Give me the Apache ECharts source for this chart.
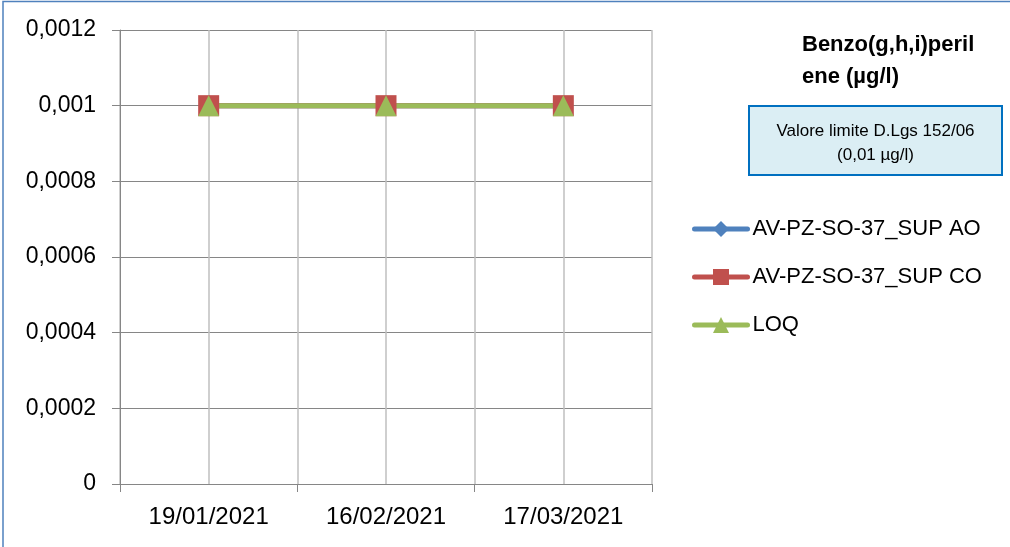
<!DOCTYPE html>
<html style="height: 100%">
   <head>
       <meta charset="utf-8">
   </head>
   <body style="height: 100%; margin: 0">
       <div id="container" style="height: 100%"></div>
       <script type="text/javascript" src="https://cdn.jsdelivr.net/npm/echarts@6/dist/echarts.min.js"></script>
       <script type="text/javascript">
var dates = ['19/01/2021', '16/02/2021', '17/03/2021'];
var supAO = [0.001, 0.001, 0.001];
var supCO = [0.001, 0.001, 0.001];
var loq = [0.001, 0.001, 0.001];
var yTicks = [0, 0.0002, 0.0004, 0.0006, 0.0008, 0.001, 0.0012];

var dom = document.getElementById("container");
var myChart = echarts.init(dom);

var font = '"Liberation Sans", Arial, sans-serif';

option = {
    backgroundColor: '#fff',
    animation: false,
    title: {
        text: 'Benzo(g,h,i)peril\nene (\u00b5g/l)',
        left: 797,
        top: 24,
        textStyle: {
            fontFamily: font,
            fontWeight: 'bold',
            fontSize: 22,
            lineHeight: 32,
            color: '#000'
        }
    },
    legend: {
        orient: 'vertical',
        left: 692,
        top: 218,
        padding: 0,
        itemWidth: 53,
        itemHeight: 20,
        itemGap: 26,
        lineStyle: { width: 5, cap: 'round' },
        textStyle: {
            fontFamily: font,
            fontSize: 22,
            color: '#000'
        },
        data: ['AV-PZ-SO-37_SUP AO', 'AV-PZ-SO-37_SUP CO', 'LOQ']
    },
    grid: {
        left: 120,
        right: 358,
        top: 30,
        bottom: 63
    },
    xAxis: [{
        type: 'category',
        data: dates,
        boundaryGap: true,
        axisLine: { lineStyle: { color: '#868686', width: 1 } },
        axisTick: { show: true, length: 8, interval: 0, lineStyle: { color: '#868686' } },
        axisLabel: {
            margin: 21,
            fontFamily: font,
            fontSize: 24,
            color: '#000'
        },
        splitLine: { show: false }
    }, {
        // helper axis: light vertical grid at every half category
        type: 'value',
        min: 0,
        max: 6,
        interval: 1,
        position: 'top',
        axisLine: { show: false },
        axisTick: { show: false },
        axisLabel: { show: false },
        splitLine: { show: true, lineStyle: { color: '#bfbfbf', width: 1.5 } }
    }],
    yAxis: {
        type: 'value',
        min: yTicks[0],
        max: yTicks[yTicks.length - 1],
        interval: 0.0002,
        axisLine: { show: true, lineStyle: { color: '#868686', width: 1 } },
        axisTick: { show: true, length: 8, lineStyle: { color: '#868686' } },
        axisLabel: {
            margin: 24,
            fontFamily: font,
            fontSize: 23,
            color: '#000',
            formatter: function (v) {
                var i = yTicks.indexOf(v);
                if (i < 0) return '';
                return String(parseFloat(yTicks[i].toFixed(4))).replace('.', ',');
            }
        },
        splitLine: { show: true, lineStyle: { color: '#868686', width: 1.2 } }
    },
    series: [{
        name: 'AV-PZ-SO-37_SUP AO',
        type: 'line',
        data: supAO,
        symbol: 'diamond',
        symbolSize: 20,
        lineStyle: { color: '#4f81bd', width: 5 },
        itemStyle: { color: '#4f81bd' }
    }, {
        name: 'AV-PZ-SO-37_SUP CO',
        type: 'line',
        data: supCO,
        symbol: 'rect',
        symbolSize: 21,
        lineStyle: { color: '#c0504d', width: 5 },
        itemStyle: { color: '#c0504d' }
    }, {
        name: 'LOQ',
        type: 'line',
        data: loq,
        symbol: 'triangle',
        symbolSize: 21,
        lineStyle: { color: '#9bbb59', width: 5 },
        itemStyle: { color: '#9bbb59' }
    }],
    graphic: [{
        type: 'rect',
        shape: { x: 3, y: 1.5, width: 1012, height: 552 },
        style: { fill: 'none', stroke: '#4f81bd', lineWidth: 1.5 },
        silent: true
    }, {
        type: 'rect',
        shape: { x: 749, y: 106, width: 253, height: 69 },
        style: { fill: '#dbeef4', stroke: '#0070c0', lineWidth: 2 },
        silent: true
    }, {
        type: 'text',
        x: 875.5,
        y: 143,
        style: {
            text: 'Valore limite D.Lgs 152/06\n(0,01 \u00b5g/l)',
            font: '17px ' + font,
            fill: '#000',
            align: 'center',
            verticalAlign: 'middle',
            lineHeight: 24
        },
        silent: true
    }]
};

myChart.setOption(option);
       </script>
   </body>
</html>
